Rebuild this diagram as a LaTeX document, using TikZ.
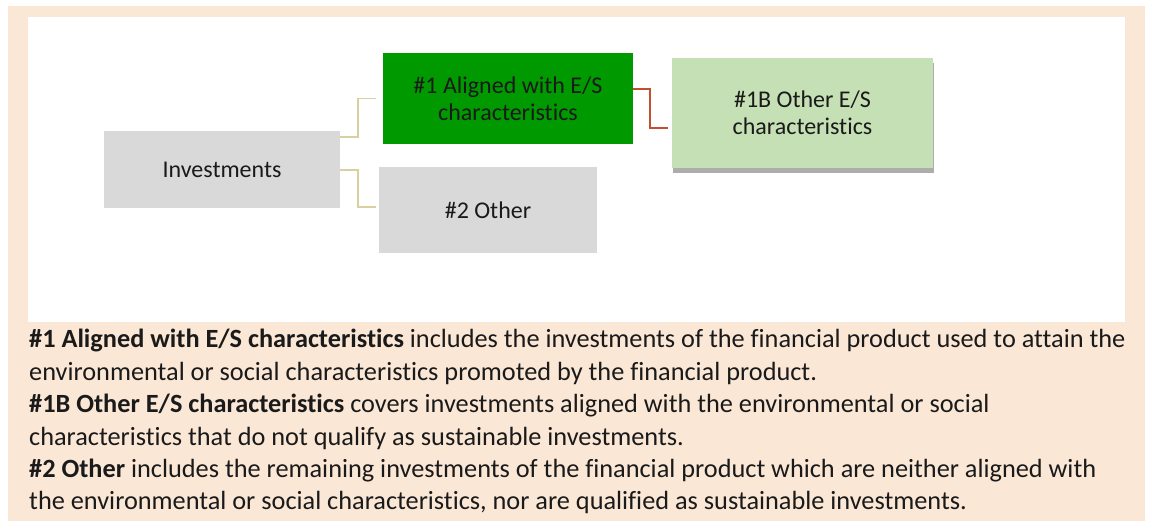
\documentclass[tikz,border=0pt]{standalone}
\usepackage{fontspec}
\setmainfont{Carlito}[Ligatures=NoCommon]
\usetikzlibrary{shadows}
\definecolor{beige}{RGB}{250,231,214}
\definecolor{boxgray}{RGB}{217,217,217}
\definecolor{darkgreen}{RGB}{0,153,0}
\definecolor{lightgreen}{RGB}{197,224,180}
\definecolor{tanline}{RGB}{216,208,160}
\definecolor{redline}{RGB}{192,80,46}
\definecolor{txt}{RGB}{26,26,26}
\tikzset{
  box/.style={draw=none, inner sep=0pt, align=center, font=\fontsize{24}{27}\selectfont, text=txt},
  conn/.style={line width=1.4pt},
  desc/.style={anchor=base west, inner sep=0pt, font=\fontsize{26.3}{30}\selectfont, text=txt}
}
\begin{document}
\begin{tikzpicture}[x=1pt,y=-1pt]
\useasboundingbox (0,0) rectangle (1151,521);
\fill[beige] (8,6) rectangle (1145,521);
\fill[white] (28,17) rectangle (1125,322);
\node[box, fill=boxgray, minimum width=236pt, minimum height=77pt] (inv) at (222,169.5) {Investments};
\node[box, fill=darkgreen, minimum width=250pt, minimum height=91pt] (al) at (508,98.5) {\#1 Aligned with E/S\\characteristics};
\node[box, fill=boxgray, minimum width=218pt, minimum height=86pt] (oth) at (488,210) {\#2 Other};
\node[box, fill=lightgreen, minimum width=261pt, minimum height=110pt, drop shadow={shadow xshift=1pt, shadow yshift=-5pt, fill=black!40, opacity=0.8}] (ob) at (802.5,113) {\#1B Other E/S\\characteristics};
\draw[conn, tanline] ([yshift=32.5pt]inv.east) -| ([xshift=-25pt]al.west) -- ([xshift=-7pt]al.west);
\draw[conn, tanline] ([yshift=-0.5pt]inv.east) -| ([xshift=-21pt, yshift=3pt]oth.west) -- ([xshift=-3pt, yshift=3pt]oth.west);
\draw[conn, redline] ([yshift=9.5pt]al.east) -| ([xshift=-22pt, yshift=-15pt]ob.west) -- ([xshift=-4pt, yshift=-15pt]ob.west);
\node[desc] (l1) at (29,347) {\textbf{\#1 Aligned with E/S characteristics} includes the investments of the financial product used to attain the};
\node[desc] (l2) at (29,380) {environmental or social characteristics promoted by the financial product.};
\node[desc] (l3) at (29,412) {\textbf{\#1B Other E/S characteristics} covers investments aligned with the environmental or social};
\node[desc] (l4) at (29,445) {characteristics that do not qualify as sustainable investments.};
\node[desc] (l5) at (29,477) {\textbf{\#2 Other} includes the remaining investments of the financial product which are neither aligned with};
\node[desc] (l6) at (29,509) {the environmental or social characteristics, nor are qualified as sustainable investments.};
\end{tikzpicture}
\end{document}
